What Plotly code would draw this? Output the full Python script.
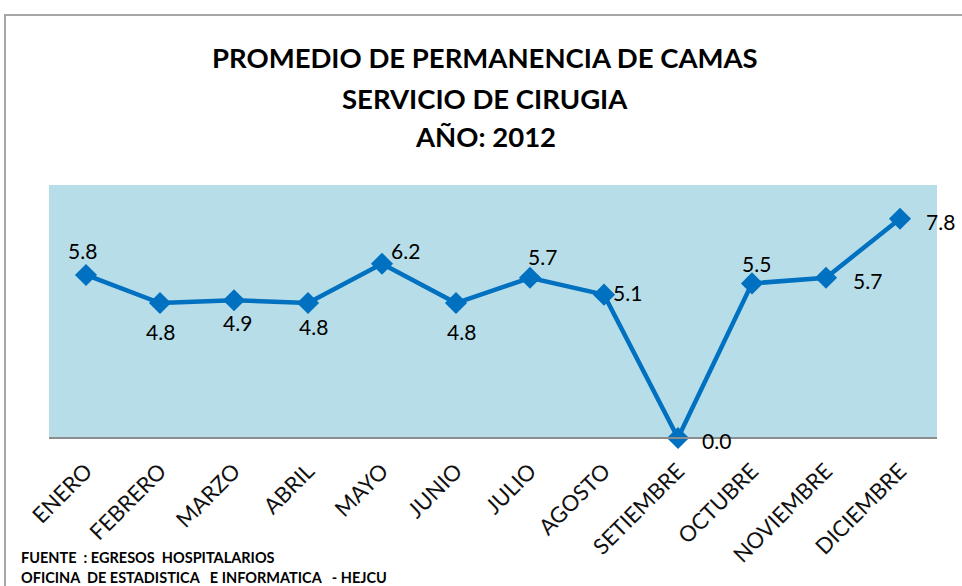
import plotly.graph_objects as go

months = ["ENERO", "FEBRERO", "MARZO", "ABRIL", "MAYO", "JUNIO", "JULIO",
          "AGOSTO", "SETIEMBRE", "OCTUBRE", "NOVIEMBRE", "DICIEMBRE"]
values = [5.8, 4.8, 4.9, 4.8, 6.2, 4.8, 5.7, 5.1, 0.0, 5.5, 5.7, 7.8]
title_lines = ["PROMEDIO DE PERMANENCIA DE CAMAS", "SERVICIO DE CIRUGIA", "AÑO: 2012"]
footer_lines = ["FUENTE  : EGRESOS  HOSPITALARIOS",
                "OFICINA  DE ESTADISTICA   E INFORMATICA   - HEJCU"]

# data-label offsets (pixels) relative to each marker
label_dx = [-4, 0, 3, 5, 23, 5, 12, 23, 38, 4, 41, 40]
label_dy = [24, -28, -22, -23, 13, -28, 21, 2, -2, 20, -3, -3]

W, H = 962, 586
L, R, T, B = 49, 25, 185, 148
pw, ph = W - L - R, H - T - B

def px(x):
    return (x - L) / pw

def py(y):
    return (H - B - y) / ph

font_family = "Lato, 'Open Sans', sans-serif"

fig = go.Figure()
fig.add_trace(go.Scatter(
    x=months, y=values,
    mode="lines+markers",
    line=dict(color="#0070c0", width=4.5),
    marker=dict(symbol="diamond", size=17, color="#0070c0"),
    cliponaxis=False,
    showlegend=False,
))

annotations = []
for m, v, dx, dy in zip(months, values, label_dx, label_dy):
    annotations.append(dict(
        text=f"{v:.1f}", x=m, y=v, xref="x", yref="y",
        xshift=dx, yshift=dy, showarrow=False,
        xanchor="center", yanchor="middle",
        font=dict(family=font_family, size=21, color="#000000")))

title_y = [57, 98, 136]
for txt, yy in zip(title_lines, title_y):
    annotations.append(dict(
        text=f"<b>{txt}</b>", xref="paper", yref="paper",
        x=px(485), y=py(yy), xanchor="center", yanchor="middle",
        showarrow=False,
        font=dict(family=font_family, size=27.5, color="#000000")))
for txt, yy in zip(footer_lines, [557, 577]):
    annotations.append(dict(
        text=f"<b>{txt}</b>", xref="paper", yref="paper",
        x=px(19), y=py(yy), xanchor="left", yanchor="middle",
        showarrow=False,
        font=dict(family=font_family, size=14.5, color="#000000")))

fig.update_layout(
    width=W, height=H,
    margin=dict(l=L, r=R, t=T, b=B),
    paper_bgcolor="white",
    plot_bgcolor="#b7dde8",
    xaxis=dict(
        range=[-0.5, 11.5],
        showgrid=False, zeroline=False,
        showline=False,
        ticks="", tickangle=-45,
        ticklabelstandoff=15,
        tickfont=dict(family=font_family, size=22, color="#111111"),
        fixedrange=True,
    ),
    yaxis=dict(
        range=[0, 9],
        showgrid=False, zeroline=False, showline=False,
        showticklabels=False, ticks="",
        fixedrange=True,
    ),
    shapes=[
        dict(type="line", xref="paper", yref="paper",
             x0=0, x1=1, y0=0, y1=0,
             line=dict(color="#8c8c8c", width=2), layer="above"),
        dict(type="rect", xref="paper", yref="paper",
             x0=px(5), x1=px(1000), y0=py(15), y1=py(640),
             line=dict(color="#a6a6a6", width=2), fillcolor="rgba(0,0,0,0)"),
    ],
    annotations=annotations,
)

fig.write_html("out.html", config={"displayModeBar": False},
               post_script="document.body.style.margin='0';document.body.style.overflow='hidden';")
